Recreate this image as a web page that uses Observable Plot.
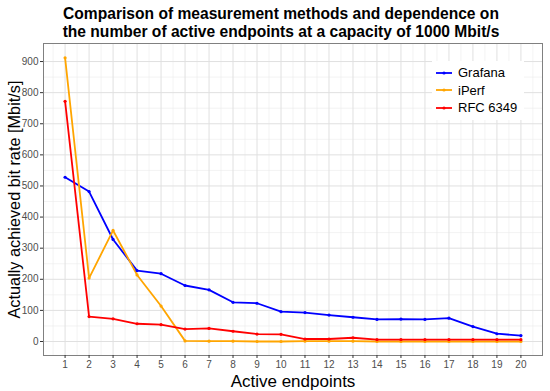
<!DOCTYPE html>
<html>
<head>
<meta charset="utf-8">
<script src="https://cdn.jsdelivr.net/npm/d3@7"></script>
<script src="https://cdn.jsdelivr.net/npm/@observablehq/plot@0.6"></script>
<style>
  body { margin: 0; background: #fff; font-family: "Liberation Sans", Arial, sans-serif; }
  #wrap { position: relative; width: 550px; height: 391px; }
  #title { position: absolute; left: 0; top: 5px; width: 562px; text-align: center; font-weight: bold; font-size: 15.6px; line-height: 18px; color: #000; }
  #legend { position: absolute; left: 432px; top: 61px; width: 92px; background: #fff; font-size: 13px; color: #000; padding: 3px 0; }
  #legend div { display: flex; align-items: center; height: 17.5px; }
  #legend svg { margin: 0 6px 0 4px; }
</style>
</head>
<body>
<div id="wrap">
  <div id="chart"></div>
  <div id="title">Comparison of measurement methods and dependence on<br>the number of active endpoints at a capacity of 1000 Mbit/s</div>
  <div id="legend"></div>
</div>
<script>
const endpoints = [1,2,3,4,5,6,7,8,9,10,11,12,13,14,15,16,17,18,19,20];
const series = ["Grafana", "iPerf", "RFC 6349"];
const colors = ["#0000FF", "#FFA500", "#FF0000"];
const grafana = [528,482,328,228,218,180,166,126,123,96,93,85,78,71,72,71,75,48,25,19];
const iperf   = [912,204,357,214,114,2,1,1,0,0,1,1,1,0,0,0,0,0,0,0];
const rfc6349 = [772,80,73,57,54,40,42,33,24,23,8,8,12,6,6,6,6,6,6,6];
const yTicks = [0,100,200,300,400,500,600,700,800,900];

const values = [grafana, iperf, rfc6349];
const data = [];
series.forEach((s, i) => endpoints.forEach((e, j) => data.push({series: s, x: e, y: values[i][j]})));

const minorY = d3.range(50, 950, 100);
const minorX = d3.range(0.5, 21, 1);

const plot = Plot.plot({
  width: 550,
  height: 391,
  marginLeft: 43,
  marginRight: 8,
  marginTop: 43,
  marginBottom: 36,
  style: { fontFamily: "Liberation Sans, Arial, sans-serif", background: "#fff" },
  x: { domain: [0.1, 20.9], ticks: endpoints, tickFormat: d => d, tickSize: 3, label: null },
  y: { domain: [-45, 958], ticks: yTicks, tickSize: 3, label: null },
  color: { domain: series, range: colors },
  marks: [
    Plot.ruleY(minorY, { stroke: "#ebebeb", strokeWidth: 0.6 }),
    Plot.ruleX(minorX, { stroke: "#ebebeb", strokeWidth: 0.6 }),
    Plot.ruleY(yTicks, { stroke: "#e0e0e0", strokeWidth: 1 }),
    Plot.ruleX(endpoints, { stroke: "#e0e0e0", strokeWidth: 1 }),
    Plot.frame({ stroke: "#808080", strokeWidth: 1 }),
    Plot.axisX({ ticks: endpoints, tickFormat: d => d, tickSize: 3, stroke: "#333", fill: "#4d4d4d", fontSize: 10, tickPadding: 2, label: null }),
    Plot.axisY({ ticks: yTicks, tickSize: 3, stroke: "#333", fill: "#4d4d4d", fontSize: 10, tickPadding: 2, label: null }),
    Plot.line(data, { x: "x", y: "y", stroke: "series", z: "series", strokeWidth: 1.8 }),
    Plot.dot(data, { x: "x", y: "y", fill: "series", r: 1.6 }),
    Plot.text(["Actually achieved bit rate [Mbit/s]"], { frameAnchor: "left", dx: -29, rotate: -90, fontSize: 16.3, fill: "#000", textAnchor: "middle" }),
    Plot.text(["Active endpoints"], { frameAnchor: "bottom", dy: 31, fontSize: 17, fill: "#000", textAnchor: "middle" })
  ]
});
document.getElementById("chart").appendChild(plot);

const legend = document.getElementById("legend");
series.forEach((s, i) => {
  const row = document.createElement("div");
  row.innerHTML = `<svg width="16" height="6"><line x1="0" y1="3" x2="16" y2="3" stroke="${colors[i]}" stroke-width="1.8"/><circle cx="8" cy="3" r="1.6" fill="${colors[i]}"/></svg><span>${s}</span>`;
  legend.appendChild(row);
});
</script>
</body>
</html>
